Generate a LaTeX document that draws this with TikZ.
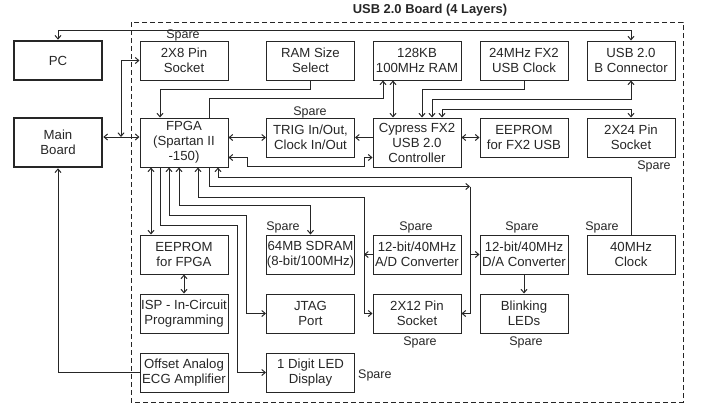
\documentclass[tikz,border=0pt]{standalone}
\usepackage{fontspec}
\setmainfont{Liberation Sans}
\usetikzlibrary{arrows.meta}
\definecolor{ink}{HTML}{262626}
\tikzset{
  box/.style={draw=ink, line width=1pt, rectangle, minimum width=88pt, minimum height=39pt,
    inner xsep=0pt, inner ysep=1pt, align=center, text=ink,
    font=\fontsize{13.2}{15}\selectfont},
  tallbox/.style={box, minimum height=49pt},
  thickbox/.style={box, line width=2.6pt},
  sparelbl/.style={text=ink, inner sep=0pt, font=\fontsize{12.5}{14}\selectfont},
  conn/.style={draw=ink, line width=1pt},
  >={Straight Barb[length=3.5pt,width=6pt]}
}
\begin{document}
\begin{tikzpicture}[x=1pt, y=-1pt]
\useasboundingbox (0,0) rectangle (705,407);
% board outline
\draw[ink, line width=1pt, dash pattern=on 5pt off 3pt] (131,22) rectangle (683,402);
\node[text=ink, font=\bfseries\fontsize{12.9}{14}\selectfont, inner sep=0pt] (title) at (430,10) {USB 2.0 Board (4 Layers)};

% outside boxes
\node[thickbox] (pc) at (58,60.5) {PC};
\node[thickbox, minimum height=49pt] (main) at (58,142.5) {Main\\Board};

% top row
\node[box] (sock8) at (184,60.5) {2X8 Pin\\Socket};
\node[box] (ramsel) at (310.5,60.5) {RAM Size\\Select};
\node[box] (ram) at (417,60.5) {128KB\\100MHz RAM};
\node[box] (clk24) at (524,60.5) {24MHz FX2\\USB Clock};
\node[box] (usbb) at (631,60.5) {USB 2.0\\B Connector};

% second row
\node[tallbox] (fpga) at (184,142.5) {FPGA\\(Spartan II\\-150)};
\node[box] (trig) at (310.5,137.5) {TRIG In/Out,\\Clock In/Out};
\node[tallbox] (fx2) at (417,142.5) {Cypress FX2\\USB 2.0\\Controller};
\node[box] (eefx2) at (524,137.5) {EEPROM\\for FX2 USB};
\node[box] (sock24) at (631,137.5) {2X24 Pin\\Socket};

% lower rows
\node[box] (eefpga) at (184,254.5) {EEPROM\\for FPGA};
\node[box] (isp) at (184,313.5) {ISP - In-Circuit\\Programming};
\node[box] (ecg) at (184,372.5) {Offset Analog\\ECG Amplifier};
\node[box] (sdram) at (310.5,254.5) {64MB SDRAM\\(8-bit/100MHz)};
\node[box] (jtag) at (310.5,313.5) {JTAG\\Port};
\node[box] (led) at (310.5,372.5) {1 Digit LED\\Display};
\node[box] (adc) at (417,254.5) {12-bit/40MHz\\A/D Converter};
\node[box] (sock12) at (417,313.5) {2X12 Pin\\Socket};
\node[box] (dac) at (524,254.5) {12-bit/40MHz\\D/A Converter};
\node[box] (blink) at (524,313.5) {Blinking\\LEDs};
\node[box] (clk40) at (631,254.5) {40MHz\\Clock};

% spare labels
\node[sparelbl] (sp1) at (183,35.5) {Spare};
\node[sparelbl] (sp2) at (310,112) {Spare};
\node[sparelbl] (sp3) at (654,166) {Spare};
\node[sparelbl] (sp4) at (283,227.5) {Spare};
\node[sparelbl] (sp5) at (416,227.5) {Spare};
\node[sparelbl] (sp6) at (522,227.5) {Spare};
\node[sparelbl] (sp7) at (602,227.5) {Spare};
\node[sparelbl, anchor=west] (sp8) at (358,375) {Spare};
\node[sparelbl] (sp9) at (420,342.5) {Spare};
\node[sparelbl] (sp10) at (526,342.5) {Spare};

% coordinates
\coordinate (j1) at (121,137);
\coordinate (c1) at (470,186.5);
\coordinate (c2) at (364,197);

% connectors
\draw[conn, <->] (pc.north) -- ++(0,-9.3) -| (usbb.north);
\draw[conn, <->] ([yshift=5.5pt]main.east) -- ([yshift=5.5pt]fpga.west);
\draw[conn, <->] (j1) |- (sock8.west);
\draw[conn, ->] (ecg.west) -| (main.south);
\draw[conn, ->] (ramsel.south) -- ++(0,9) -| ([xshift=-24pt]fpga.north);
\draw[conn, ->] ([xshift=25pt]fpga.north) -- ++(0,-19) -| ([xshift=-34pt]ram.south);
\draw[conn, <->] ([xshift=-24pt]ram.south) -- ([xshift=-24pt]fx2.north);
\draw[conn, <->] (fpga.east |- trig.west) -- (trig.west);
\draw[conn, ->] (fx2.west |- trig.east) -- (trig.east);
\draw[conn, <->] ([yshift=-15pt]fpga.east) -- ++(19,0) -- ++(0,9) -| ([xshift=-8pt,yshift=-15pt]fx2.west) -- ([yshift=-15pt]fx2.west);
\draw[conn, ->] (clk24.south) -- ++(0,9) -| ([xshift=5pt]fx2.north);
\draw[conn, <->] (usbb.south) -- ++(0,19) -| ([xshift=15pt]fx2.north);
\draw[conn, <->] ([xshift=25pt]fx2.north) -- ++(0,-8) -| (sock24.north);
\draw[conn, <->] (fx2.east |- eefx2.west) -- (eefx2.west);
\draw[conn, ->] (clk40.north) -- ++(0,-57) -| ([xshift=34pt]fpga.south);
\draw[conn, ->] ([xshift=25pt]fpga.south) |- (c1);
\draw[conn, ->] (c1) |- (sock12.east);
\draw[conn, ->] (c1 |- dac.west) -- (dac.west);
\draw[conn, <->] ([xshift=14pt]fpga.south) |- (c2) |- (sock12.west);
\draw[conn, ->] (adc.west) -- (adc.west -| c2);
\draw[conn, <->] ([xshift=-5pt]fpga.south) -- ++(0,38) -| (sdram.north);
\draw[conn, <->] ([xshift=-15pt]fpga.south) -- ++(0,48) -| ([xshift=-20pt]jtag.west) -- (jtag.west);
\draw[conn, ->] ([xshift=-24pt]fpga.south) -- ++(0,58) -| ([xshift=-29pt]led.west) -- (led.west);
\draw[conn, <->] ([xshift=-33pt]fpga.south) -- ([xshift=-33pt]eefpga.north);
\draw[conn, <->] (eefpga.south) -- (isp.north);
\draw[conn, ->] (dac.south) -- (blink.north);
\end{tikzpicture}
\end{document}
